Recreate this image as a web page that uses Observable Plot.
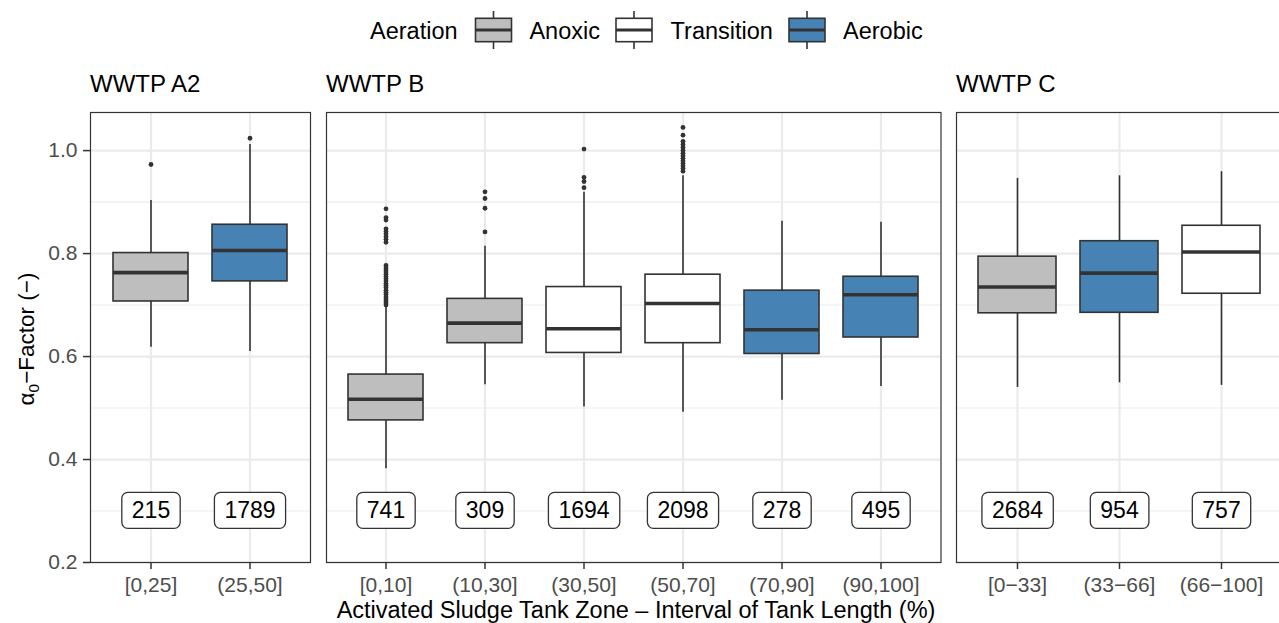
<!DOCTYPE html>
<html><head><meta charset="utf-8">
<script src="https://cdn.jsdelivr.net/npm/d3@7"></script>
<script src="https://cdn.jsdelivr.net/npm/@observablehq/plot@0.6"></script>
<style>
html,body{margin:0;padding:0;background:#fff;}
#chart{position:relative;width:1279px;height:623px;overflow:hidden;}
#chart svg{position:absolute;overflow:visible;}
</style></head><body><div id="chart"></div>
<script>
// ---------- data ----------
const facets = ["WWTP A2", "WWTP B", "WWTP C"];
const zones = ["[0,25]", "(25,50]", "[0,10]", "(10,30]", "(30,50]", "(50,70]", "(70,90]", "(90,100]", "[0\u221233]", "(33\u221266]", "(66\u2212100]"];
const zoneFacet = ["WWTP A2", "WWTP A2", "WWTP B", "WWTP B", "WWTP B", "WWTP B", "WWTP B", "WWTP B", "WWTP C", "WWTP C", "WWTP C"];
const aeration = ["Anoxic", "Aerobic", "Anoxic", "Anoxic", "Transition", "Transition", "Aerobic", "Aerobic", "Anoxic", "Aerobic", "Transition"];
const whiskerLow  = [0.618, 0.610, 0.382, 0.545, 0.502, 0.492, 0.515, 0.542, 0.540, 0.549, 0.544];
const q1          = [0.707, 0.746, 0.476, 0.626, 0.607, 0.626, 0.605, 0.637, 0.684, 0.685, 0.722];
const median      = [0.763, 0.806, 0.517, 0.665, 0.654, 0.703, 0.652, 0.720, 0.735, 0.762, 0.803];
const q3          = [0.801, 0.856, 0.565, 0.712, 0.735, 0.759, 0.728, 0.755, 0.794, 0.824, 0.854];
const whiskerHigh = [0.903, 1.012, 0.698, 0.814, 0.919, 0.951, 0.863, 0.861, 0.946, 0.951, 0.959];
const counts = [215, 1789, 741, 309, 1694, 2098, 278, 495, 2684, 954, 757];

const outliers_A2_0_25 = [0.973];
const outliers_A2_25_50 = [1.024];
const outliers_B_0_10 = [0.887, 0.870, 0.865, 0.848, 0.843, 0.838, 0.833, 0.828, 0.822,
  0.777, 0.772, 0.768, 0.764, 0.760, 0.755, 0.751, 0.747, 0.742, 0.738, 0.734, 0.729,
  0.725, 0.721, 0.716, 0.712, 0.708, 0.704, 0.700];
const outliers_B_10_30 = [0.920, 0.907, 0.888, 0.842];
const outliers_B_30_50 = [1.003, 0.948, 0.940, 0.928];
const outliers_B_50_70 = [1.045, 1.030, 1.018, 1.012, 1.006, 1.000, 0.995, 0.990, 0.985,
  0.980, 0.975, 0.970, 0.965, 0.960];

const aerationLevels = ["Anoxic", "Transition", "Aerobic"];
const aerationColors = ["#BEBEBE", "#FFFFFF", "#4682B4"];
const yTicks = [0.2, 0.4, 0.6, 0.8, 1.0];
const yMinor = [0.3, 0.5, 0.7, 0.9];
const labelY = 0.3;
const legendTitle = "Aeration";
const xTitle = "Activated Sludge Tank Zone \u2013 Interval of Tank Length (%)";

// ---------- build tables ----------
const stats = zones.map((z, i) => ({zone: z, facet: zoneFacet[i], aeration: aeration[i],
  lo: whiskerLow[i], q1: q1[i], med: median[i], q3: q3[i], hi: whiskerHigh[i], n: counts[i]}));
const outlierTable = [
  ...outliers_A2_0_25.map(v => ({zone: zones[0], value: v})),
  ...outliers_A2_25_50.map(v => ({zone: zones[1], value: v})),
  ...outliers_B_0_10.map(v => ({zone: zones[2], value: v})),
  ...outliers_B_10_30.map(v => ({zone: zones[3], value: v})),
  ...outliers_B_30_50.map(v => ({zone: zones[4], value: v})),
  ...outliers_B_50_70.map(v => ({zone: zones[5], value: v}))
];

const FONT = "'Liberation Sans', Arial, Helvetica, sans-serif";
const chart = document.getElementById("chart");
const ns = "http://www.w3.org/2000/svg";

// ---------- overlay: legend, strip titles, axis titles ----------
const ov = d3.create("svg").attr("width", 1279).attr("height", 623)
  .style("left", "0px").style("top", "0px").attr("font-family", FONT);
ov.append("text").attr("x", 370).attr("y", 39).attr("font-size", 23.5).attr("fill", "#000").text(legendTitle);
const keyX = [475.5, 616, 789];
const keyTextX = [529.4, 670.6, 843];
aerationLevels.forEach((lev, i) => {
  const g = ov.append("g").attr("transform", `translate(${keyX[i]},0)`);
  g.append("line").attr("x1", 18).attr("x2", 18).attr("y1", 11).attr("y2", 49).attr("stroke", "#333").attr("stroke-width", 1.6);
  g.append("rect").attr("x", 0).attr("y", 18.3).attr("width", 36).attr("height", 23.4)
    .attr("fill", aerationColors[i]).attr("stroke", "#333").attr("stroke-width", 1.6);
  g.append("line").attr("x1", 0).attr("x2", 36).attr("y1", 30).attr("y2", 30).attr("stroke", "#333").attr("stroke-width", 3);
  ov.append("text").attr("x", keyTextX[i]).attr("y", 39).attr("font-size", 23.5).attr("fill", "#000").text(lev);
});
const stripX = [90, 326, 956];
facets.forEach((f, i) => {
  ov.append("text").attr("x", stripX[i]).attr("y", 92).attr("font-size", 24).attr("fill", "#000").text(f);
});
ov.append("text").attr("x", 636).attr("y", 618).attr("text-anchor", "middle")
  .attr("font-size", 23.5).attr("fill", "#000").text(xTitle);
const yt = ov.append("text").attr("transform", "translate(34,339) rotate(-90)")
  .attr("text-anchor", "middle").attr("font-size", 22.5).attr("fill", "#000");
yt.append("tspan").text("\u03b1");
yt.append("tspan").attr("font-size", 15.5).attr("dy", 5).text("0");
yt.append("tspan").attr("dy", -5).text("\u2212Factor (\u2212)");
chart.appendChild(ov.node());

// ---------- panels ----------
const panelLayout = [
  {facet: "WWTP A2", left: 0, width: 310, marginLeft: 90, showY: true},
  {facet: "WWTP B", left: 326, width: 614.5, marginLeft: 0, showY: false},
  {facet: "WWTP C", left: 956, width: 326.5, marginLeft: 0, showY: false}
];

const panels = [];
panelLayout.forEach(p => {
  const s = stats.filter(d => d.facet === p.facet);
  const doms = s.map(d => d.zone);
  const outs = outlierTable.filter(d => doms.includes(d.zone));
  const marks = [
    Plot.ruleY(yMinor, {stroke: "#EBEBEB", strokeWidth: 1.1}),
    Plot.ruleY(yTicks, {stroke: "#EBEBEB", strokeWidth: 2.2}),
    Plot.ruleX(doms, {stroke: "#EBEBEB", strokeWidth: 2.2}),
    Plot.ruleX(s, {x: "zone", y1: "lo", y2: "hi", stroke: "#333333", strokeWidth: 1.6}),
    Plot.barY(s, {x: "zone", y1: "q1", y2: "q3", fill: "aeration", stroke: "#333333", strokeWidth: 1.6}),
    Plot.tickY(s, {x: "zone", y: "med", stroke: "#333333", strokeWidth: 3.6}),
    Plot.dot(outs, {x: "zone", y: "value", r: 2.4, fill: "#333333", stroke: null}),
    Plot.text(s, {x: "zone", y: () => labelY, text: d => String(d.n), fontSize: 23, fill: "#000"}),
    Plot.frame({stroke: "#333333", strokeWidth: 1.2}),
    Plot.axisX({tickSize: 7, tickPadding: 8, fontSize: 21, color: "#4D4D4D", stroke: "#333333", strokeWidth: 1.5, label: null})
  ];
  if (p.showY) marks.push(Plot.axisY({ticks: yTicks, tickFormat: d => d.toFixed(1), tickSize: 7, tickPadding: 6,
    fontSize: 21, color: "#4D4D4D", stroke: "#333333", strokeWidth: 1.5, label: null}));
  const svg = Plot.plot({
    width: p.width, height: 502, marginLeft: p.marginLeft, marginRight: 0, marginTop: 12, marginBottom: 40,
    style: {fontFamily: FONT, background: "transparent", overflow: "visible"},
    x: {type: "band", domain: doms, paddingInner: 0.24, paddingOuter: 0.22, label: null},
    y: p.showY ? {domain: [0.2, 1.074], label: null} : {domain: [0.2, 1.074], label: null, axis: null},
    color: {type: "ordinal", domain: aerationLevels, range: aerationColors},
    marks
  });
  svg.style.left = p.left + "px";
  svg.style.top = "100px";
  chart.appendChild(svg);
  panels.push({svg, labels: s.map(d => String(d.n))});
});

// rounded label boxes behind the count labels (the text mark's own elements)
panels.forEach(({svg, labels}) => {
  const texts = Array.from(svg.querySelectorAll("text"))
    .filter(t => labels.includes(t.textContent) && !t.closest('[aria-label*="axis"]'));
  texts.forEach(t => {
    const b = t.getBBox();
    const r = document.createElementNS(ns, "rect");
    const cy = b.y + b.height / 2;
    r.setAttribute("x", b.x - 10);
    r.setAttribute("width", b.width + 20);
    r.setAttribute("y", cy - 18);
    r.setAttribute("height", 36);
    r.setAttribute("rx", 6);
    r.setAttribute("fill", "#fff");
    r.setAttribute("stroke", "#333");
    r.setAttribute("stroke-width", 1.3);
    const tr = t.getAttribute("transform");
    if (tr) r.setAttribute("transform", tr);
    t.parentNode.insertBefore(r, t);
  });
});
</script></body></html>
